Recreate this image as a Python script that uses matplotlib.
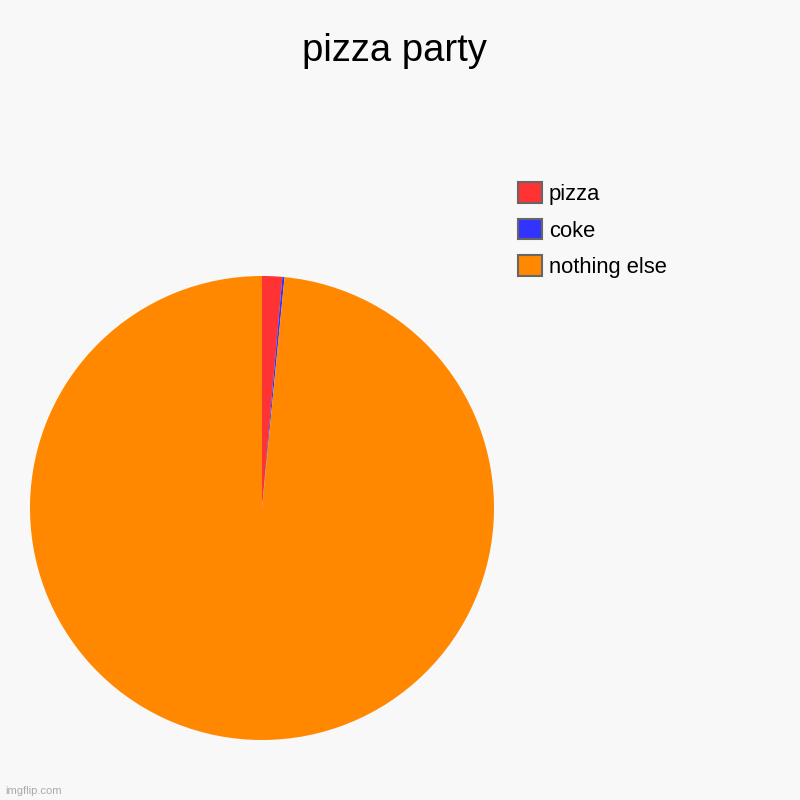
import matplotlib
matplotlib.use("Agg")
import matplotlib.pyplot as plt
from matplotlib.patches import Patch

labels = ["pizza", "coke", "nothing else"]
values = [1.4, 0.15, 98.45]
colors = ["#ff3333", "#3333ff", "#ff8800"]

plt.rcParams['font.family'] = ['Liberation Sans', 'DejaVu Sans']
fig = plt.figure(figsize=(8, 8), dpi=100, facecolor="#f8f8f8")
ax = fig.add_axes([30/800, 60/800, 464/800, 464/800])
ax.set_facecolor("#f8f8f8")
ax.pie(values, colors=colors, startangle=90, counterclock=False,
       wedgeprops=dict(linewidth=0))
ax.set_aspect("equal")
ax.set_xlim(-1, 1)
ax.set_ylim(-1, 1)

fig.text(0.4925, 1 - 51/800, "pizza party", ha="center", va="center", fontsize=27.5)

handles = [Patch(facecolor=c, edgecolor="#666666", linewidth=1.5) for c in colors]
fig.legend(handles, labels, loc="upper left", bbox_to_anchor=(514/800, 1 - 178/800),
           frameon=False, fontsize=15.8, handlelength=1.07, handleheight=1.07,
           labelspacing=0.62, handletextpad=0.32, borderaxespad=0, borderpad=0.2)

fig.text(5/800, 1 - 791/800, "imgflip.com", ha="left", va="center", fontsize=8, color="#aaaaaa")

fig.savefig("out.png", dpi=100, facecolor=fig.get_facecolor())
